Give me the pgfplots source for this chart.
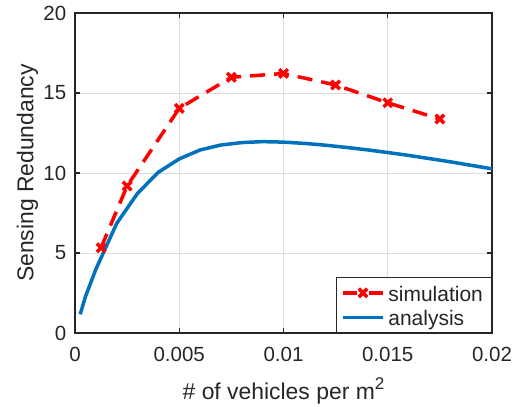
\documentclass[border=0pt]{standalone}
\usepackage{pgfplots}
\pgfplotsset{compat=1.18}
\usepackage{fontspec}
\setmainfont{Liberation Sans}
\definecolor{mblue}{RGB}{0,114,189}
\definecolor{mtext}{RGB}{38,38,38}
\newcommand{\lbl}{\fontsize{20.5bp}{24bp}\selectfont}
\newcommand{\axlbl}{\fontsize{22.9bp}{26bp}\selectfont}
\newcommand{\leg}{\fontsize{21bp}{24bp}\selectfont}
\pgfplotsset{
  simleg/.style={legend image code/.code={
    \draw[##1,solid,mark=none] (0bp,0bp)--(14bp,0bp) (26bp,0bp)--(40bp,0bp);
    \draw[##1,solid] plot coordinates {(20bp,0bp)};}},
  lineleg/.style={legend image code/.code={\draw[##1] (0bp,0bp)--(40bp,0bp);}},
}

\begin{document}
\begin{tikzpicture}
\useasboundingbox (-75bp,-74bp) rectangle (450bp,333bp);
\begin{axis}[
  at={(0,0)}, anchor=south west,
  width=417bp, height=320bp, scale only axis,
  xmin=0, xmax=0.02, ymin=0, ymax=20,
  xtick={0,0.005,0.01,0.015,0.02},
  xticklabels={0,0.005,0.01,0.015,0.02},
  scaled x ticks=false,
  ytick={0,5,10,15,20},
  tick align=inside, major tick length=5bp,
  axis line style={mtext, line width=1.2bp},
  every tick/.style={mtext, line width=1.2bp},
  grid=major, grid style={black!13, line width=0.8bp},
  /pgf/number format/assume math mode=true,
  tick label style={font=\lbl, text=mtext},
  xticklabel style={anchor=base, yshift=-28.7bp, inner sep=0pt},
  yticklabel style={anchor=east, inner sep=0pt, xshift=-8.5bp},
  xlabel={\# of vehicles per m\raisebox{10bp}{\fontsize{17bp}{17bp}\selectfont 2}},
  ylabel={Sensing Redundancy},
  label style={font=\axlbl, text=mtext},
  xlabel style={at={(axis description cs:0.5,-0.209)}, anchor=base, inner sep=0pt},
  ylabel style={at={(axis description cs:-0.100,0.5)}, anchor=base, inner sep=0pt},
  legend style={at={(1,0)}, anchor=south east, font=\leg, text=mtext,
    draw=mtext, line width=1bp, fill=white, inner xsep=5bp, inner ysep=3bp,
    row sep=0bp, nodes={inner xsep=3.6bp, inner ysep=2.2bp, text height=18.5bp, text depth=1.5bp}},
  legend cell align=left,
]
\addplot[red, line width=3.5bp, dash pattern=on 15bp off 9bp,
  mark=x, mark size=6bp, mark options={solid, line width=3.5bp}, simleg]
coordinates {
  (0.00125,5.33) (0.0025,9.19) (0.005,14.04) (0.0075,15.98)
  (0.01,16.22) (0.0125,15.5) (0.015,14.39) (0.0175,13.37)
};
\addlegendentry{simulation}
\addplot[mblue, line width=3.5bp, lineleg]
coordinates {
  (0.00025,1.17) (0.0005,2.27) (0.001,3.98) (0.002,6.85) (0.003,8.73)
  (0.004,10.05) (0.005,10.88) (0.006,11.44) (0.007,11.75) (0.008,11.9)
  (0.009,11.96) (0.01,11.93) (0.011,11.85) (0.012,11.74) (0.013,11.6)
  (0.014,11.45) (0.015,11.28) (0.016,11.1) (0.017,10.9) (0.018,10.7)
  (0.019,10.48) (0.02,10.26)
};
\addlegendentry{analysis}
\end{axis}
\end{tikzpicture}
\end{document}
